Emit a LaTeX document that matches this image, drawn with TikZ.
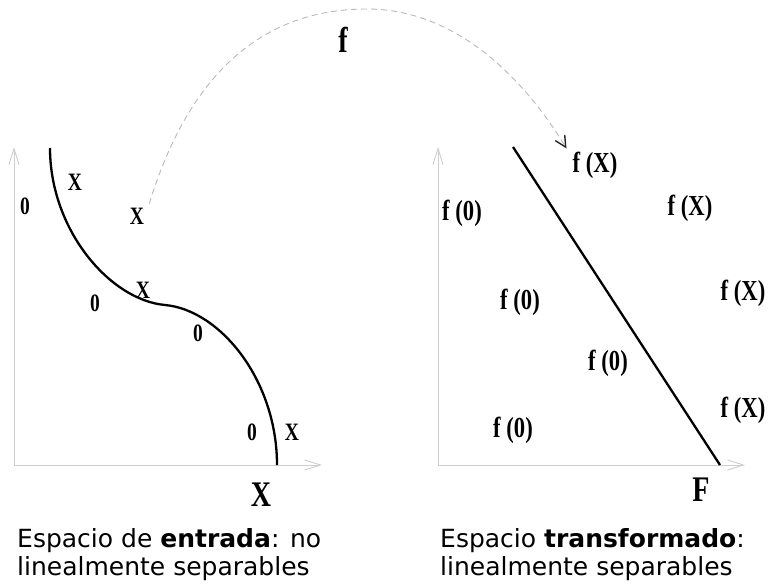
\documentclass[tikz,border=0pt]{standalone}
\usepackage{fontspec}
\setmainfont{DejaVu Sans}
\newfontfamily\lblfont[FakeStretch=0.78]{Liberation Serif}
\usetikzlibrary{arrows.meta}
\definecolor{axisgray}{RGB}{205,205,205}
\definecolor{mapgray}{RGB}{185,185,185}
\tikzset{
  axis/.style={draw=axisgray, line width=0.9pt, -{Straight Barb[length=16pt,width=10pt]}},
  sep/.style={line width=2.3pt},
  pt/.style={font=\lblfont\bfseries\fontsize{25}{25}\selectfont, inner sep=0pt},
  fpt/.style={font=\lblfont\bfseries\fontsize{29}{29}\selectfont, inner sep=0pt},
  axlbl/.style={font=\lblfont\bfseries\fontsize{36}{36}\selectfont, inner sep=0pt},
  caption/.style={font=\fontsize{25}{30}\selectfont, anchor=base west, inner sep=0pt},
  map/.style={draw=mapgray, line width=0.9pt, dash pattern=on 6pt off 4pt,
    -{Straight Barb[length=11pt,width=11pt,line width=1.4pt,color=black!85]}}
}
\begin{document}
\begin{tikzpicture}[x=1pt, y=-1pt]
  \useasboundingbox (0,0) rectangle (768,585);
  % input space
  \coordinate (oin) at (14,465);
  \draw[axis] (oin) -- (14,147);
  \draw[axis] (oin) -- (322,465);
  \draw[sep] (50,148) .. controls (50,230) and (110,300) .. (165,305)
    .. controls (220,310) and (277,380) .. (277,465);
  \node[pt] (xa) at (137,216) {X};
  \node[pt] (xb) at (75,182) {X};
  \node[pt] (xc) at (143,290) {X};
  \node[pt] (xd) at (292,432) {X};
  \node[pt] (oa) at (25,206) {0};
  \node[pt] (ob) at (95,303) {0};
  \node[pt] (oc) at (198,333) {0};
  \node[pt] (od) at (252,432) {0};
  \node[axlbl] (lblX) at (261,495) {X};
  % feature space
  \coordinate (ofe) at (438,465);
  \draw[axis] (ofe) -- (438,147);
  \draw[axis] (ofe) -- (745,465);
  \draw[sep] (513,147) -- (720,465);
  \node[fpt] (fa) at (595,165) {f (X)};
  \node[fpt] (fb) at (690,208) {f (X)};
  \node[fpt] (fc) at (743,293) {f (X)};
  \node[fpt] (fd) at (743,410) {f (X)};
  \node[fpt] (ga) at (462,213) {f (0)};
  \node[fpt] (gb) at (520,302) {f (0)};
  \node[fpt] (gc) at (608,363) {f (0)};
  \node[fpt] (gd) at (513,430) {f (0)};
  \node[axlbl] (lblF) at (701,490) {F};
  % mapping
  \node[axlbl] (lblf) at (343,40) {f};
  \draw[map] ([shift={(5,-4)}]xa.north east) .. controls (183,94) and (247,9) .. (367,9)
    .. controls (457,9) and (525,80) .. ([shift={(-6,-3)}]fa.north west);
  % captions
  \node[caption] (capa) at (17,547) {Espacio de \textbf{entrada}: no};
  \node[caption] (capb) at (17,575) {linealmente separables};
  \node[caption] (capc) at (440,547) {Espacio \textbf{transformado}:};
  \node[caption] (capd) at (440,575) {linealmente separables};
\end{tikzpicture}
\end{document}
